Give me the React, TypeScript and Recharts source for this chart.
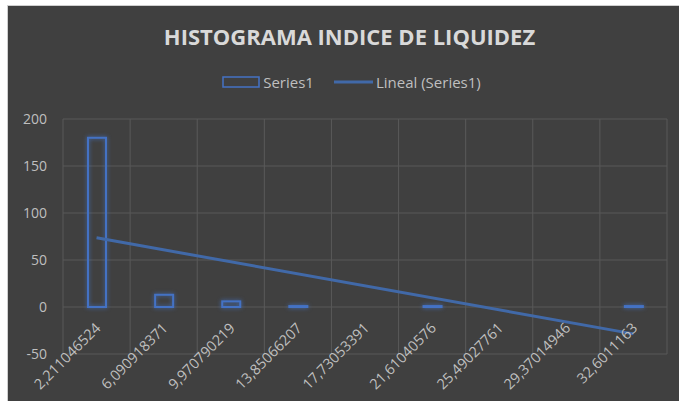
import React from "react";
import {
    ComposedChart,
    Bar,
    Line,
    XAxis,
    YAxis,
    CartesianGrid,
    Legend
} from "recharts";

// histogram bins (as shown by Excel, comma decimals)
const bins = [
    "2,211046524",
    "6,090918371",
    "9,970790219",
    "13,85066207",
    "17,73053391",
    "21,61040576",
    "25,49027761",
    "29,37014946",
    "32,6011163"
];
const frequency = [180, 13, 6, 1, 0, 1, 0, 0, 1];
// linear trendline, read at both ends
const trendline = [73.6, null, null, null, null, null, null, null, -28.6];
const yTicks = [-50, 0, 50, 100, 150, 200];

const data = bins.map((bin, i) => ({
    bin,
    freq: frequency[i],
    trend: trendline[i]
}));

const W = 671;
const H = 395;
const MARGIN = {top: 113, right: 12, bottom: 0, left: 0};
const X_AXIS_H = 47;
const PLOT_H = H - MARGIN.top - MARGIN.bottom - X_AXIS_H;
const Y_MIN = -50;
const Y_MAX = 200;
// category labels sit next to the zero line, not at the plot bottom
const ZERO_SHIFT = PLOT_H * (0 - Y_MIN) / (Y_MAX - Y_MIN);

const BLUE = "#4472C4";
const TREND = "#4169a8";
const TEXT = "#bfbfbf";
const GRID = "#595959";

const GlowBar = (props: any) => {
    const {x, y, width, height, value} = props;
    if (!value) return null;
    return (
        <rect x={x} y={y} width={width} height={height}
              fill="none" stroke={BLUE} strokeWidth={2}
              style={{filter: "drop-shadow(0 0 2px rgba(68,114,196,0.9))"}}/>
    );
};

const BinTick = (props: any) => {
    const {x, y, payload} = props;
    const ax = x + 5;
    const ay = y - ZERO_SHIFT + 22;
    return (
        <text x={ax} y={ay} fill={TEXT} fontSize={14.5} textAnchor="end"
              transform={`rotate(-45, ${ax}, ${ay})`}>
            {payload.value}
        </text>
    );
};

const LegendContent = () => (
    <div style={{display: "flex", justifyContent: "center", alignItems: "center",
        paddingLeft: 16, color: TEXT, fontSize: 15, lineHeight: "18px"}}>
        <svg width={38} height={12} style={{marginRight: 3}}>
            <rect x={1} y={1} width={36} height={10} fill="none" stroke={BLUE} strokeWidth={1.5}/>
        </svg>
        <span>Series1</span>
        <svg width={39} height={4} style={{marginLeft: 20, marginRight: 3}}>
            <line x1={0} y1={2} x2={39} y2={2} stroke={TREND} strokeWidth={3}/>
        </svg>
        <span>Lineal (Series1)</span>
    </div>
);

const App = () => {
    return (
        <div style={{position: "absolute", left: 7, top: 5,
            borderTop: "1px solid #cfcfcf", borderLeft: "1px solid #cfcfcf"}}>
            <div style={{position: "relative", width: W, height: H, background: "#404040",
                fontFamily: "'Open Sans', sans-serif"}}>
                <div style={{position: "absolute", top: 15, left: 0, width: W, paddingLeft: 12,
                    boxSizing: "border-box", textAlign: "center", color: "#d9d9d9",
                    fontSize: 22, fontWeight: 700, lineHeight: "30px"}}>
                    HISTOGRAMA INDICE DE LIQUIDEZ
                </div>
                <ComposedChart width={W} height={H} data={data} margin={MARGIN} barSize={18}>
                    <CartesianGrid stroke={GRID} strokeWidth={1}
                                   verticalCoordinatesGenerator={({offset}: any) =>
                                       bins.concat([""]).map((_, i) => offset.left + i * offset.width / bins.length)}/>
                    <XAxis dataKey="bin" interval={0} height={X_AXIS_H}
                           axisLine={false} tickLine={false} tickSize={0} tickMargin={0}
                           tick={<BinTick/>}/>
                    <YAxis domain={[Y_MIN, Y_MAX]} ticks={yTicks} width={55}
                           axisLine={false} tickLine={false} tickSize={6} tickMargin={10}
                           tick={{fill: TEXT, fontSize: 14}}/>
                    <Legend verticalAlign="middle" align="center" layout="horizontal"
                            wrapperStyle={{top: 67, left: 0, width: W}}
                            content={<LegendContent/>}/>
                    <Bar dataKey="freq" name="Series1" shape={<GlowBar/>}
                         isAnimationActive={false}/>
                    <Line dataKey="trend" name="Lineal (Series1)" type="linear"
                          stroke={TREND} strokeWidth={3} dot={false} activeDot={false}
                          connectNulls isAnimationActive={false}/>
                </ComposedChart>
            </div>
        </div>
    );
};

export default App;
